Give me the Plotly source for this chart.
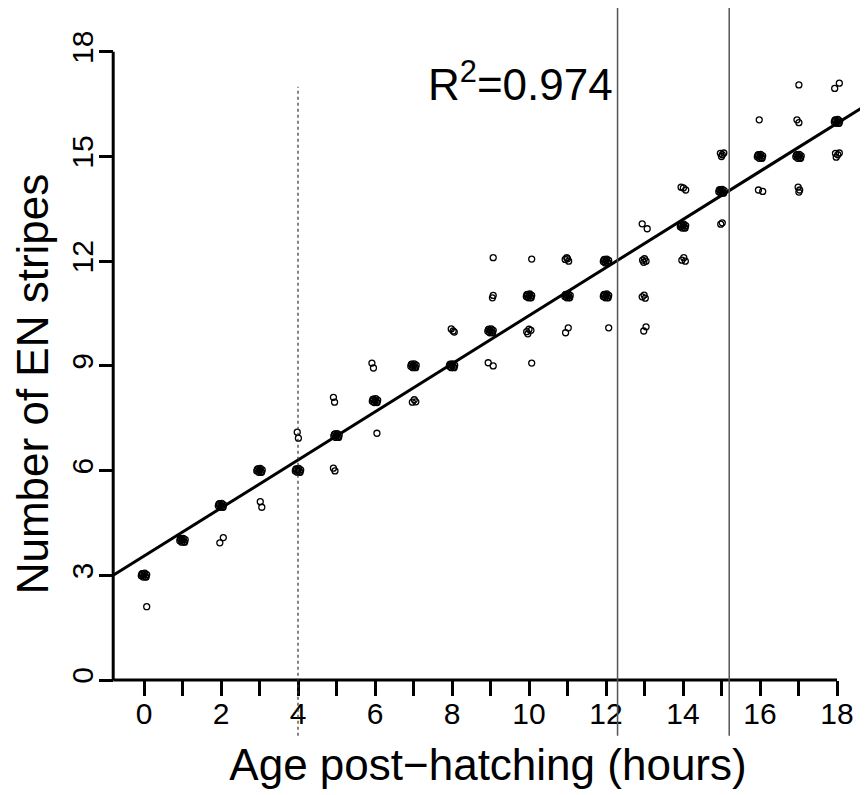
import plotly.graph_objects as go

# ---- data (each entry is one embryo, jittered as drawn) ----
age_hours = [
    # dense clusters
    -0.07, -0.04, -0.02, 0.00, 0.02, 0.04, 0.07, -0.055, 0.055,
    0.93, 0.96, 0.98, 1.00, 1.02, 1.04, 1.07, 0.945, 1.055,
    1.93, 1.96, 1.98, 2.00, 2.02, 2.04, 2.07, 1.945, 2.055,
    2.93, 2.96, 2.98, 3.00, 3.02, 3.04, 3.07, 2.945, 3.055,
    3.93, 3.96, 3.98, 4.00, 4.02, 4.04, 4.07, 3.945, 4.055,
    4.93, 4.96, 4.98, 5.00, 5.02, 5.04, 5.07, 4.945, 5.055,
    5.93, 5.96, 5.98, 6.00, 6.02, 6.04, 6.07, 5.945, 6.055,
    6.93, 6.96, 6.98, 7.00, 7.02, 7.04, 7.07, 6.945, 7.055,
    7.93, 7.96, 7.98, 8.00, 8.02, 8.04, 8.07, 7.945, 8.055,
    8.93, 8.96, 8.98, 9.00, 9.02, 9.04, 9.07, 8.945, 9.055,
    9.93, 9.96, 9.98, 10.00, 10.02, 10.04, 10.07, 9.945, 10.055,
    10.93, 10.96, 10.98, 11.00, 11.02, 11.04, 11.07, 10.945, 11.055,
    11.93, 11.96, 11.98, 12.00, 12.02, 12.04, 12.07, 11.945, 12.055,
    11.93, 11.96, 11.98, 12.00, 12.02, 12.04, 12.07, 11.945, 12.055,
    13.93, 13.96, 13.98, 14.00, 14.02, 14.04, 14.07, 13.945, 14.055,
    14.93, 14.96, 14.98, 15.00, 15.02, 15.04, 15.07, 14.945, 15.055,
    15.93, 15.96, 15.98, 16.00, 16.02, 16.04, 16.07, 15.945, 16.055,
    16.93, 16.96, 16.98, 17.00, 17.02, 17.04, 17.07, 16.945, 17.055,
    17.93, 17.96, 17.98, 18.00, 18.02, 18.04, 18.07, 17.945, 18.055,
    # scattered embryos
    0.07,
    1.97, 2.06,
    3.02, 3.06,
    3.98, 4.01,
    4.92, 4.95, 4.92, 4.96,
    5.92, 5.96, 6.05,
    6.97, 7.02, 7.06,
    7.98, 8.03, 8.06,
    8.94, 9.07, 9.05, 9.07, 9.07,
    9.94, 10.00, 10.05, 9.97, 10.07, 10.07,
    10.94, 10.98, 11.03, 11.00, 10.95, 11.02,
    12.07,
    12.95, 13.00, 13.04, 12.98, 12.94, 12.99, 13.02, 12.98, 13.04, 12.94, 13.07,
    13.97, 14.02, 14.06, 13.95, 14.01, 14.07,
    14.97, 15.02, 15.06, 15.00, 14.98, 15.02,
    15.96, 16.07, 15.98,
    16.99, 17.03, 17.01, 16.96, 17.01, 17.01,
    17.96, 18.02, 18.06, 17.98, 17.94, 18.06,
]
en_stripes = [
    # dense clusters
    2.99, 3.05, 2.95, 3.01, 3.06, 2.96, 3.02, 3.04, 2.95,
    3.99, 4.05, 3.95, 4.01, 4.06, 3.96, 4.02, 4.04, 3.95,
    4.99, 5.05, 4.95, 5.01, 5.06, 4.96, 5.02, 5.04, 4.95,
    5.99, 6.05, 5.95, 6.01, 6.06, 5.96, 6.02, 6.04, 5.95,
    5.99, 6.05, 5.95, 6.01, 6.06, 5.96, 6.02, 6.04, 5.95,
    6.99, 7.05, 6.95, 7.01, 7.06, 6.96, 7.02, 7.04, 6.95,
    7.99, 8.05, 7.95, 8.01, 8.06, 7.96, 8.02, 8.04, 7.95,
    8.99, 9.05, 8.95, 9.01, 9.06, 8.96, 9.02, 9.04, 8.95,
    8.99, 9.05, 8.95, 9.01, 9.06, 8.96, 9.02, 9.04, 8.95,
    9.99, 10.05, 9.95, 10.01, 10.06, 9.96, 10.02, 10.04, 9.95,
    10.99, 11.05, 10.95, 11.01, 11.06, 10.96, 11.02, 11.04, 10.95,
    10.99, 11.05, 10.95, 11.01, 11.06, 10.96, 11.02, 11.04, 10.95,
    11.99, 12.05, 11.95, 12.01, 12.06, 11.96, 12.02, 12.04, 11.95,
    10.99, 11.05, 10.95, 11.01, 11.06, 10.96, 11.02, 11.04, 10.95,
    12.99, 13.05, 12.95, 13.01, 13.06, 12.96, 13.02, 13.04, 12.95,
    13.99, 14.05, 13.95, 14.01, 14.06, 13.96, 14.02, 14.04, 13.95,
    14.99, 15.05, 14.95, 15.01, 15.06, 14.96, 15.02, 15.04, 14.95,
    14.99, 15.05, 14.95, 15.01, 15.06, 14.96, 15.02, 15.04, 14.95,
    15.99, 16.05, 15.95, 16.01, 16.06, 15.96, 16.02, 16.04, 15.95,
    # scattered embryos
    2.10,
    3.93, 4.08,
    5.11, 4.95,
    7.10, 6.93,
    8.10, 7.96, 6.07, 5.99,
    9.08, 8.94, 7.07,
    7.96, 8.03, 7.97,
    10.06, 10.00, 9.97,
    9.09, 9.00, 10.95, 11.02, 12.10,
    9.98, 10.05, 10.02, 9.92, 9.08, 12.06,
    12.05, 12.10, 12.00, 12.07, 9.95, 10.09,
    10.09,
    12.03, 12.07, 12.00, 11.97, 10.98, 11.03, 10.94, 10.00, 10.12, 13.07, 12.93,
    12.03, 12.10, 12.00, 14.12, 14.10, 14.04,
    15.09, 15.05, 15.10, 15.00, 13.06, 13.10,
    14.04, 14.00, 16.05,
    14.12, 14.04, 13.98, 16.05, 15.97, 17.05,
    15.09, 15.05, 15.10, 14.98, 16.95, 17.10,
]

fit_intercept = 3.55
fit_slope = 0.689
r_squared_label = "R<sup>2</sup>=0.974"

x_major_ticks = [0, 2, 4, 6, 8, 10, 12, 14, 16, 18]
y_ticks = [0, 3, 6, 9, 12, 15, 18]

marker_lines = [12.3, 15.2]   # solid vertical lines
dashed_line = 4               # dashed vertical line

# ---- geometry (page body has an 8px margin, so the figure is 860x787) ----
W, H = 860, 787
X_MIN, X_MAX = -0.935, 18.805
Y_MIN, Y_MAX = -2.292, 19.255
X_AXIS_AT = -0.8

FONT = "Liberation Sans, Arial, sans-serif"

fig = go.Figure()

# regression line
fit_x = [X_AXIS_AT, X_MAX]
fit_y = [fit_intercept + fit_slope * v for v in fit_x]
fig.add_trace(go.Scatter(x=fit_x, y=fit_y, mode="lines",
                         line=dict(color="black", width=3),
                         hoverinfo="skip", showlegend=False))

# points
fig.add_trace(go.Scatter(x=age_hours, y=en_stripes, mode="markers",
                         marker=dict(symbol="circle-open", size=6, color="black",
                                     line=dict(width=1.3, color="black")),
                         showlegend=False))

shapes = []
# axis lines
shapes.append(dict(type="line", xref="x", yref="y", x0=X_AXIS_AT, x1=18, y0=0, y1=0,
                   line=dict(color="black", width=3)))
shapes.append(dict(type="line", xref="x", yref="y", x0=X_AXIS_AT, x1=X_AXIS_AT, y0=0, y1=18,
                   line=dict(color="black", width=3)))
# vertical reference lines
shapes.append(dict(type="line", xref="x", yref="y", x0=dashed_line, x1=dashed_line,
                   y0=-1.6, y1=17.0, line=dict(color="#333333", width=1.2, dash="3px,3px")))
for xv in marker_lines:
    shapes.append(dict(type="line", xref="x", yref="y", x0=xv, x1=xv,
                       y0=-1.6, y1=Y_MAX, line=dict(color="#555555", width=1.5)))

fig.update_layout(
    width=W, height=H,
    margin=dict(l=0, r=0, t=0, b=0),
    paper_bgcolor="white", plot_bgcolor="white",
    font=dict(family=FONT, color="black"),
    shapes=shapes,
    showlegend=False,
    xaxis=dict(
        domain=[100 / W, 1], range=[X_MIN, X_MAX],
        anchor="free", position=115 / H,
        tickvals=x_major_ticks,
        ticks="outside", ticklen=15, tickwidth=3, tickcolor="black",
        minor=dict(ticks="outside", ticklen=15, tickwidth=3, tickcolor="black",
                   tick0=0, dtick=1, showgrid=False),
        ticklabelstandoff=-8,
        tickfont=dict(size=30, family=FONT),
        showline=False, showgrid=False, zeroline=False,
        title=dict(text="Age post\u2212hatching (hours)", font=dict(size=44, family=FONT), standoff=20),
    ),
    yaxis=dict(
        domain=[35 / H, 1], range=[Y_MIN, Y_MAX],
        anchor="free", position=105.2 / W,
        tickvals=y_ticks, tickangle=-90,
        ticks="outside", ticklen=14, tickwidth=3, tickcolor="black",
        ticklabelstandoff=-6,
        tickfont=dict(size=30, family=FONT),
        showline=False, showgrid=False, zeroline=False,
        title=dict(text="Number of EN stripes", font=dict(size=44, family=FONT), standoff=14),
    ),
    annotations=[dict(x=9.77, y=17.15, xref="x", yref="y", text=r_squared_label,
                      showarrow=False, font=dict(size=44, family=FONT, color="black"),
                      xanchor="center", yanchor="middle")],
)

fig.write_html("out.html")
